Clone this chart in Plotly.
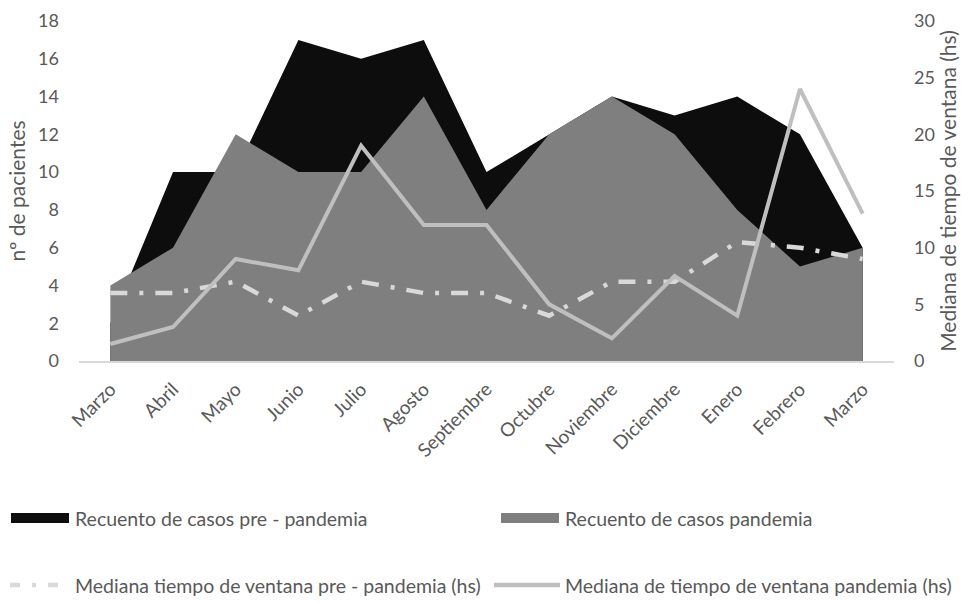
import plotly.graph_objects as go

months = ["Marzo", "Abril", "Mayo", "Junio", "Julio", "Agosto", "Septiembre",
          "Octubre", "Noviembre", "Diciembre", "Enero", "Febrero", "Marzo"]
casos_pre = [2, 10, 10, 17, 16, 17, 10, 12, 14, 13, 14, 12, 6]
casos_pand = [4, 6, 12, 10, 10, 14, 8, 12, 14, 12, 8, 5, 6]
mediana_pre = [6, 6, 7, 4, 7, 6, 6, 4, 7, 7, 10.5, 10, 9]
mediana_pand = [1.5, 3, 9, 8, 19, 12, 12, 5, 2, 7.5, 4, 24, 13]

x = list(range(len(months)))

FONT = "Lato"
TXT = "#595959"
W, H = 968, 603
ML, MR, MT, MB = 79, 74, 21, 242
PW, PH = W - ML - MR, H - MT - MB

def px(xp):
    return (xp - ML) / PW

def py(yp):
    return (H - MB - yp) / PH

fig = go.Figure()
fig.add_trace(go.Scatter(x=x, y=casos_pre, mode="lines", fill="tozeroy",
                         line=dict(width=0, color="#0d0d0d"), fillcolor="#0d0d0d",
                         name="Recuento de casos pre - pandemia", showlegend=False))
fig.add_trace(go.Scatter(x=x, y=casos_pand, mode="lines", fill="tozeroy",
                         line=dict(width=0, color="#7f7f7f"), fillcolor="#7f7f7f",
                         name="Recuento de casos pandemia", showlegend=False))
fig.add_trace(go.Scatter(x=x, y=mediana_pre, mode="lines", yaxis="y2",
                         line=dict(width=4.5, color="#d9d9d9", dash="17px,12px,4px,12px"),
                         name="Mediana tiempo de ventana pre - pandemia (hs)", showlegend=False))
fig.add_trace(go.Scatter(x=x, y=mediana_pand, mode="lines", yaxis="y2",
                         line=dict(width=4, color="#bfbfbf"),
                         name="Mediana de tiempo de ventana pandemia (hs)", showlegend=False))

# custom legend (pixel positions converted to paper coords)
shapes = []
annotations = []
legend_items = [
    ("rect", "#0d0d0d", None, 11, 69, 518, "Recuento de casos pre - pandemia", 73),
    ("rect", "#7f7f7f", None, 501, 559, 518, "Recuento de casos pandemia", 563),
    ("line", "#d9d9d9", "10px,12px,4px,12px", 10, 70, 585, "Mediana tiempo de ventana pre - pandemia (hs)", 73),
    ("line", "#bfbfbf", None, 494, 560, 585, "Mediana de tiempo de ventana pandemia (hs)", 563),
]
for kind, col, dash, x0, x1, yc, label, tx in legend_items:
    if kind == "rect":
        shapes.append(dict(type="rect", xref="paper", yref="paper",
                           x0=px(x0), x1=px(x1), y0=py(yc + 5), y1=py(yc - 5),
                           fillcolor=col, line=dict(width=0)))
    else:
        ln = dict(color=col, width=4.5)
        if dash:
            ln["dash"] = dash
        shapes.append(dict(type="line", xref="paper", yref="paper",
                           x0=px(x0), x1=px(x1), y0=py(yc), y1=py(yc), line=ln))
    annotations.append(dict(text=label, xref="paper", yref="paper",
                            x=px(tx), y=py(yc), xanchor="left", yanchor="middle",
                            showarrow=False, font=dict(family=FONT, size=19.5, color=TXT)))

fig.update_layout(
    width=W, height=H,
    margin=dict(l=ML, r=MR, t=MT, b=MB, autoexpand=False),
    paper_bgcolor="white", plot_bgcolor="white",
    font=dict(family=FONT, color=TXT, size=18),
    showlegend=False,
    shapes=shapes, annotations=annotations,
    xaxis=dict(range=[-0.5, 12.5], tickmode="array", tickvals=x, ticktext=months,
               tickangle=-45, showgrid=False, zeroline=False, showline=True,
               linecolor="#d9d9d9", linewidth=1.5, ticks="", ticklabelstandoff=8,
               tickfont=dict(family=FONT, size=19, color=TXT), automargin=False),
    yaxis=dict(range=[0, 18], dtick=2, showgrid=False, zeroline=False, showline=False,
               ticks="", ticklabelstandoff=19,
               title=dict(text="nº de pacientes", font=dict(family=FONT, size=21, color=TXT), standoff=6),
               tickfont=dict(family=FONT, size=18, color=TXT), automargin=False),
    yaxis2=dict(range=[0, 30], dtick=5, overlaying="y", side="right", showgrid=False,
                zeroline=False, showline=False, ticks="", ticklabelstandoff=19,
                title=dict(text="Mediana de tiempo de ventana (hs)", font=dict(family=FONT, size=21, color=TXT), standoff=2),
                tickfont=dict(family=FONT, size=18, color=TXT), automargin=False),
)

fig.write_html("out.html")
